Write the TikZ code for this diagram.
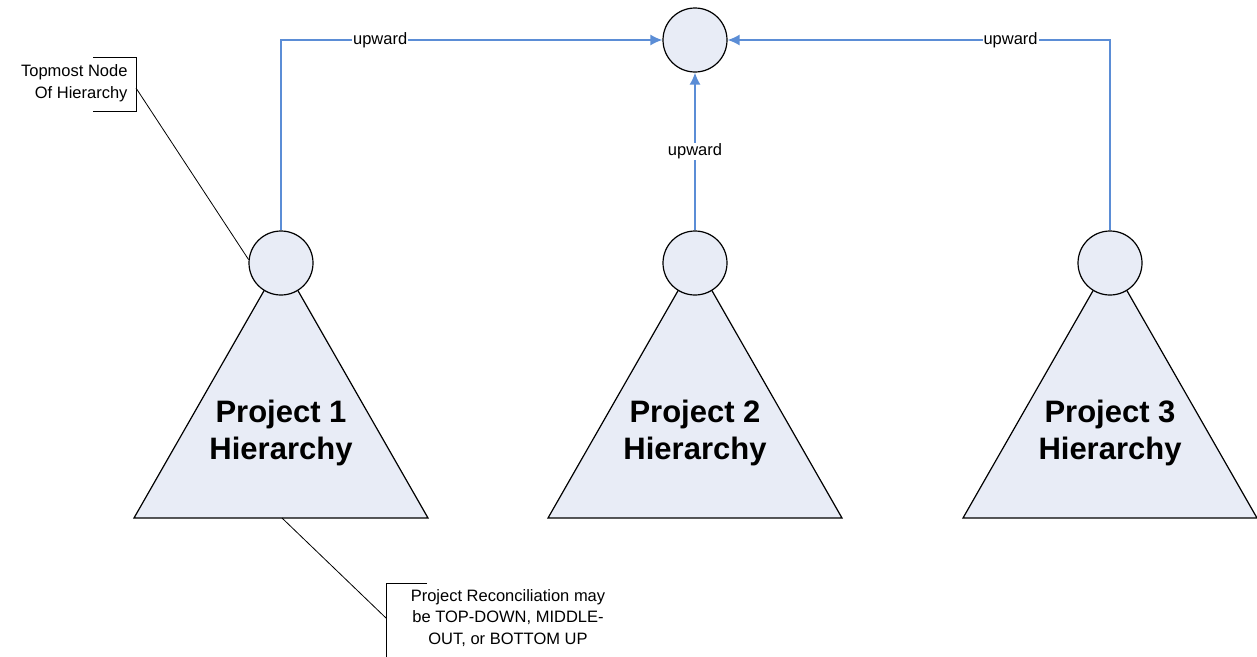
\documentclass[tikz,border=0pt]{standalone}
\usepackage{fontspec}
\setmainfont{Liberation Sans}
\usepackage{tikz}
\usetikzlibrary{calc, arrows.meta}

\definecolor{paleblue}{RGB}{232,236,246}
\definecolor{linkblue}{RGB}{91,141,214}

\begin{document}
\begin{tikzpicture}[x=1pt, y=-1pt]

    \tikzstyle{head}=[circle, draw=black, line width=1.2pt, fill=paleblue, minimum size=64pt, inner sep=0pt];
    \tikzstyle{tree}=[draw=black, line width=1.2pt, fill=paleblue];
    \tikzstyle{link}=[draw=linkblue, line width=1.6pt, -{Latex[length=12pt, width=11pt]}];
    \tikzstyle{lbl}=[fill=white, inner sep=1pt, font=\fontsize{16.5}{18}\selectfont];
    \tikzstyle{title}=[align=center, font=\fontsize{31}{37}\selectfont\bfseries];
    \tikzstyle{note}=[font=\fontsize{16.5}{21.5}\selectfont];

    \useasboundingbox (0,0) rectangle (1257,656);

    \draw[tree] (281,261) -- (134,518) -- (428,518) -- cycle;
    \draw[tree] (695,261) -- (548,518) -- (842,518) -- cycle;
    \draw[tree] (1110,261) -- (963,518) -- (1257,518) -- cycle;

    \node[head] (root) at (695,40) {};
    \node[head] (head1) at (281,263) {};
    \node[head] (head2) at (695,263) {};
    \node[head] (head3) at (1110,263) {};

    \node[title] (tree1) at (281,433) {Project 1\\Hierarchy};
    \node[title] (tree2) at (695,433) {Project 2\\Hierarchy};
    \node[title] (tree3) at (1110,433) {Project 3\\Hierarchy};

    \draw[link] (head1.north) |- node[lbl, pos=0.63] {upward} (root.west);
    \draw[link] (head3.north) |- node[lbl, pos=0.63] {upward} (root.east);
    \draw[link] (head2.north) -- node[lbl] {upward} (root.south);

    % callouts
    \node[note, align=right, anchor=east] (topnote) at (131,83) {Topmost Node\\Of Hierarchy};
    \draw[line width=1pt] (93,57) -- (136,57) -- (136,111) -- (93,111);
    \coordinate (topleader) at (136,88);
    \draw[line width=0.8pt] (topleader) -- (head1.174);

    \node[note, align=center] (modenote) at (508,618) {Project Reconciliation may\\be TOP-DOWN, MIDDLE-\\OUT, or BOTTOM UP};
    \draw[line width=1pt] (427,583) -- (386,583) -- (386,660);
    \coordinate (modeleader) at (386,618);
    \coordinate (basepoint) at (282,518);
    \draw[line width=0.8pt] (modeleader) -- (basepoint);

\end{tikzpicture}
\end{document}
